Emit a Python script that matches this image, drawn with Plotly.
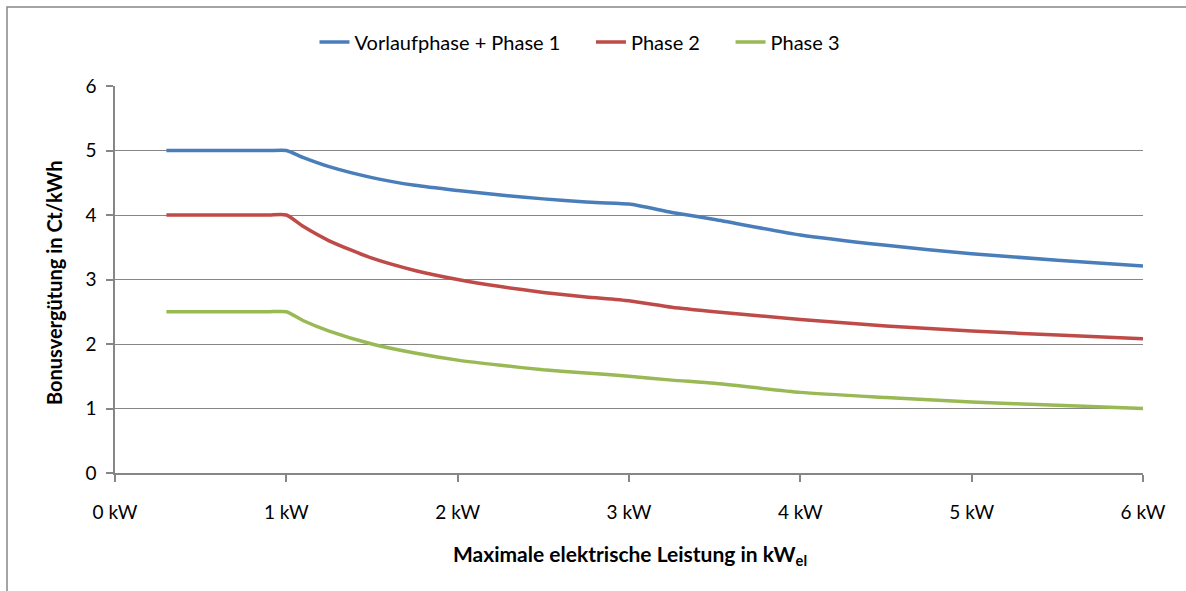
import plotly.graph_objects as go

# Data (x in kW, values in Ct/kWh)
x_kw = [0.3, 0.5, 0.75, 0.9, 1.0, 1.1, 1.25, 1.5, 1.75, 2.0, 2.25, 2.5, 2.75,
        3.0, 3.25, 3.5, 4.0, 4.5, 5.0, 5.5, 6.0]
phase1 = [5.0, 5.0, 5.0, 5.0, 5.0, 4.89, 4.75, 4.58, 4.46, 4.38, 4.31, 4.25, 4.20,
          4.17, 4.04, 3.93, 3.69, 3.53, 3.40, 3.30, 3.21]
phase2 = [4.0, 4.0, 4.0, 4.0, 4.0, 3.82, 3.60, 3.33, 3.14, 3.00, 2.89, 2.80, 2.73,
          2.67, 2.57, 2.50, 2.38, 2.28, 2.20, 2.14, 2.08]
phase3 = [2.5, 2.5, 2.5, 2.5, 2.5, 2.36, 2.20, 2.00, 1.86, 1.75, 1.67, 1.60, 1.55,
          1.50, 1.44, 1.39, 1.25, 1.17, 1.10, 1.05, 1.00]

series_names = ["Vorlaufphase + Phase 1", "Phase 2", "Phase 3"]
colors = ["#4A7EBB", "#BE4B48", "#98B954"]

FONT = "Lato, 'Open Sans', sans-serif"
GRAY = "#868686"
PAD = "\u00a0" * 5

fig = go.Figure()
for i, (name, ys, c) in enumerate(zip(series_names, [phase1, phase2, phase3], colors)):
    label = name + (PAD if i < len(series_names) - 1 else "")
    fig.add_trace(go.Scatter(x=x_kw, y=ys, mode="lines", name=label,
                             line=dict(color=c, width=3.5, shape="spline", smoothing=0.6)))

W, H = 1186, 591
L, R, T, B = 115, 43, 86, 118
pw, ph = W - L - R, H - T - B

def px_x(p):
    return (p - L) / pw

def px_y(p):
    return (H - B - p) / ph

fig.update_layout(
    width=W, height=H,
    margin=dict(l=L, r=R, t=T, b=B),
    paper_bgcolor="white", plot_bgcolor="white",
    font=dict(family=FONT, size=18, color="#000000"),
    showlegend=True,
    legend=dict(orientation="h", x=px_x(580), xanchor="center", y=px_y(42), yanchor="middle",
                font=dict(size=20), tracegroupgap=0),
    xaxis=dict(range=[0, 6], dtick=1, tick0=0, ticksuffix=" kW", showgrid=False,
               showline=True, linecolor=GRAY, linewidth=1.5, ticks="outside",
               tickcolor=GRAY, ticklen=7, tickwidth=1.5, ticklabelstandoff=14,
               zeroline=False, tickfont=dict(size=19)),
    yaxis=dict(range=[0, 6], dtick=1, tick0=0, showgrid=True, gridcolor=GRAY, gridwidth=1.3,
               showline=True, linecolor=GRAY, linewidth=1.5, ticks="outside",
               tickcolor=GRAY, ticklen=7, tickwidth=1.5, ticklabelstandoff=6,
               zeroline=False, tickfont=dict(size=19)),
    annotations=[
        dict(text="<b>Maximale elektrische Leistung in kW<sub>el</sub></b>",
             xref="paper", yref="paper", x=px_x(630), y=px_y(555),
             xanchor="center", yanchor="middle", showarrow=False, font=dict(size=21)),
        dict(text="<b>Bonusvergütung in Ct/kWh</b>",
             xref="paper", yref="paper", x=px_x(54), y=px_y(283),
             xanchor="center", yanchor="middle", showarrow=False, textangle=-90,
             font=dict(size=20)),
    ],
    shapes=[
        dict(type="rect", xref="paper", yref="paper",
             x0=px_x(7), x1=px_x(1195), y0=px_y(600), y1=px_y(7),
             line=dict(color=GRAY, width=1.5), fillcolor="rgba(0,0,0,0)", layer="below"),
    ],
)

fig.write_html("out.html")
